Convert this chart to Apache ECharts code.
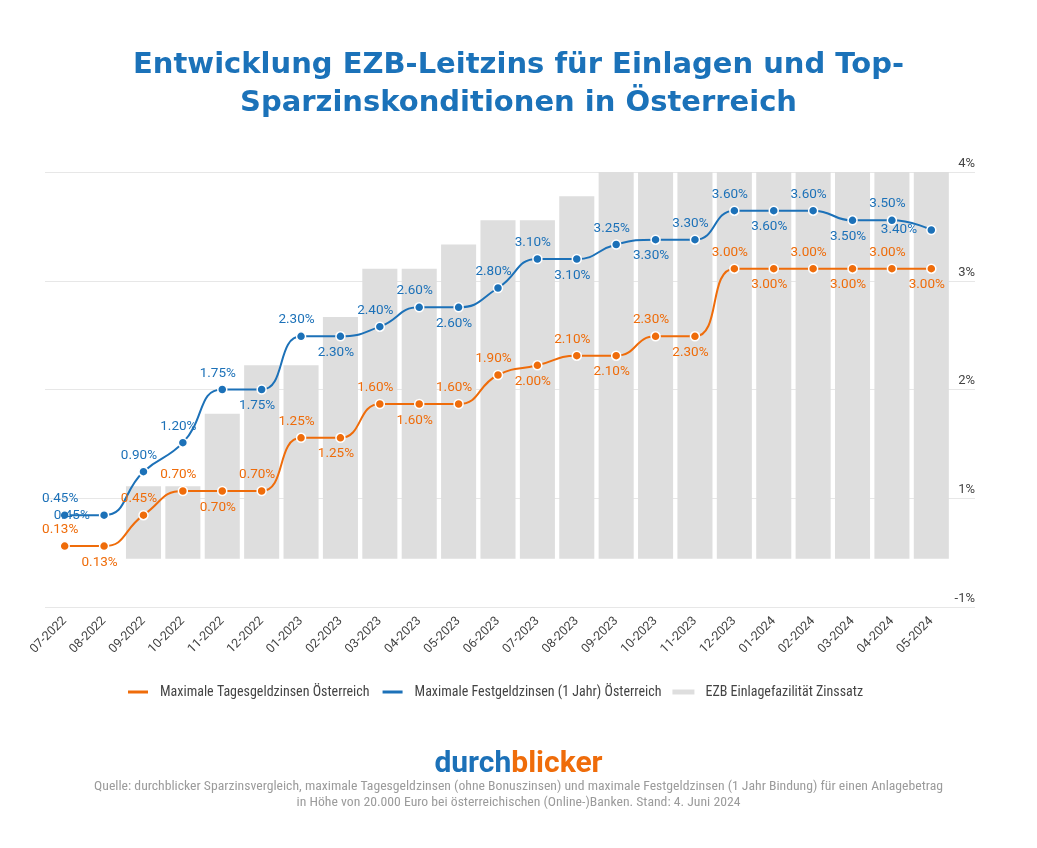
<!DOCTYPE html>
<html>
<head>
<meta charset="utf-8">
<script src="https://cdn.jsdelivr.net/npm/echarts@6/dist/echarts.min.js"></script>
<style>
  html, body { margin: 0; padding: 0; background: #fff; }
  #container { width: 1037px; height: 848px; }
</style>
</head>
<body>
<div id="container"></div>
<script>
var months = ['07-2022', '08-2022', '09-2022', '10-2022', '11-2022', '12-2022',
    '01-2023', '02-2023', '03-2023', '04-2023', '05-2023', '06-2023', '07-2023',
    '08-2023', '09-2023', '10-2023', '11-2023', '12-2023', '01-2024', '02-2024',
    '03-2024', '04-2024', '05-2024'];
var tagesgeld = [0.13, 0.13, 0.45, 0.70, 0.70, 0.70, 1.25, 1.25, 1.60, 1.60, 1.60, 1.90,
    2.00, 2.10, 2.10, 2.30, 2.30, 3.00, 3.00, 3.00, 3.00, 3.00, 3.00];
var festgeld = [0.45, 0.45, 0.90, 1.20, 1.75, 1.75, 2.30, 2.30, 2.40, 2.60, 2.60, 2.80,
    3.10, 3.10, 3.25, 3.30, 3.30, 3.60, 3.60, 3.60, 3.50, 3.50, 3.40];
var ezb = [0, 0, 0.75, 0.75, 1.50, 2.00, 2.00, 2.50, 3.00, 3.00, 3.25, 3.50,
    3.50, 3.75, 4.00, 4.00, 4.00, 4.00, 4.00, 4.00, 4.00, 4.00, 4.00];
// right axis labels as printed in the original (0 position is labelled -1%)
var tickLabels = ['-1%', '1%', '2%', '3%', '4%'];

// where the value labels sit
var posTages = ['top', 'bottom', 'top', 'top', 'bottom', 'top', 'top', 'bottom', 'top', 'bottom',
    'top', 'top', 'bottom', 'top', 'bottom', 'top', 'bottom', 'top', 'bottom', 'top',
    'bottom', 'top', 'bottom'];
var posFest = ['top', 'left', 'top', 'top', 'top', 'bottom', 'top', 'bottom', 'top', 'top',
    'bottom', 'top', 'top', 'bottom', 'top', 'bottom', 'top', 'top', 'bottom', 'top',
    'bottom', 'top', 'left'];

var orange = '#ef6c0a';
var blue = '#1c71b8';
var narrow = "'Roboto Condensed', 'Liberation Sans Narrow', 'DejaVu Sans Condensed', Roboto, sans-serif";

function withLabels(values, pos) {
    return values.map(function (v, i) {
        var p = pos[i];
        return {
            value: v,
            label: {
                position: p,
                distance: p === 'left' ? 9 : 4,
                offset: p === 'left' ? [0, 0] : [-4.5, 0]
            }
        };
    });
}

var dom = document.getElementById('container');
var myChart = echarts.init(dom);
var option = {
    backgroundColor: '#fff',
    animation: false,
    title: [
        {
            text: 'Entwicklung EZB-Leitzins für Einlagen und Top-\nSparzinskonditionen in Österreich',
            left: 'center',
            top: 41,
            textStyle: {
                fontFamily: "'DejaVu Sans', sans-serif",
                fontWeight: 'bold',
                fontSize: 29,
                lineHeight: 38,
                color: '#1b72b9'
            }
        },
        {
            text: '{a|durch}{b|blicker}',
            left: 'center',
            top: 744,
            textStyle: {
                rich: {
                    a: { fontFamily: 'Roboto', fontWeight: 'bold', fontSize: 30, color: '#1c71b8' },
                    b: { fontFamily: 'Roboto', fontWeight: 'bold', fontSize: 30, color: '#ef6c0a' }
                }
            }
        },
        {
            text: 'Quelle: durchblicker Sparzinsvergleich, maximale Tagesgeldzinsen (ohne Bonuszinsen) und maximale Festgeldzinsen (1 Jahr Bindung) für einen Anlagebetrag\nin Höhe von 20.000 Euro bei österreichischen (Online-)Banken. Stand: 4. Juni 2024',
            left: 'center',
            top: 774,
            textStyle: {
                fontFamily: narrow,
                fontWeight: 'normal',
                fontSize: 13.7,
                lineHeight: 16,
                color: '#9b9b9b'
            }
        }
    ],
    legend: {
        top: 680,
        left: 121,
        icon: 'rect',
        itemWidth: 22,
        itemHeight: 5,
        itemGap: 11,
        textStyle: { fontFamily: narrow, fontSize: 14, color: '#444', padding: [0, 0, 0, 6] },
        data: ['Maximale Tagesgeldzinsen Österreich', 'Maximale Festgeldzinsen (1 Jahr) Österreich', 'EZB Einlagefazilität Zinssatz']
    },
    grid: [
        { left: 45, right: 86, top: 172, bottom: 241 },
        { left: 45, right: 62, top: 172, bottom: 241 }
    ],
    xAxis: [
        {
            type: 'category',
            gridIndex: 0,
            data: months,
            axisLine: { show: false },
            axisTick: { show: false },
            axisLabel: {
                rotate: 45,
                margin: 12,
                fontFamily: 'Roboto',
                fontSize: 12.5,
                color: '#444',
                interval: 0
            }
        },
        { type: 'value', gridIndex: 1, show: false, min: 0, max: 1 }
    ],
    yAxis: [
        {
            type: 'value',
            gridIndex: 0,
            min: -0.5,
            max: 4,
            show: false,
            splitLine: { show: false }
        },
        {
            type: 'value',
            gridIndex: 1,
            position: 'right',
            min: 0,
            max: 4,
            interval: 1,
            axisLine: { show: false },
            axisTick: { show: false },
            splitLine: { lineStyle: { color: '#e7e7e7', width: 1 } },
            axisLabel: {
                inside: true,
                margin: 0,
                verticalAlign: 'bottom',
                padding: [0, 0, 2, 0],
                fontFamily: 'Roboto',
                fontSize: 13,
                color: '#444',
                formatter: function (v) { return tickLabels[v]; }
            }
        }
    ],
    series: [
        {
            name: 'Maximale Tagesgeldzinsen Österreich',
            type: 'line',
            xAxisIndex: 0,
            yAxisIndex: 0,
            smooth: 0.5,
            z: 4,
            symbol: 'circle',
            symbolSize: 9,
            itemStyle: { color: orange, borderColor: '#fff', borderWidth: 1.5 },
            lineStyle: { color: orange, width: 2 },
            label: {
                show: true,
                color: orange,
                fontFamily: 'Roboto',
                fontSize: 13.5,
                formatter: function (p) { return p.value.toFixed(2) + '%'; }
            },
            data: withLabels(tagesgeld, posTages)
        },
        {
            name: 'Maximale Festgeldzinsen (1 Jahr) Österreich',
            type: 'line',
            xAxisIndex: 0,
            yAxisIndex: 0,
            smooth: 0.5,
            z: 3,
            symbol: 'circle',
            symbolSize: 9,
            itemStyle: { color: blue, borderColor: '#fff', borderWidth: 1.5 },
            lineStyle: { color: blue, width: 2 },
            label: {
                show: true,
                color: blue,
                fontFamily: 'Roboto',
                fontSize: 13.5,
                formatter: function (p) { return p.value.toFixed(2) + '%'; }
            },
            data: withLabels(festgeld, posFest)
        },
        {
            name: 'EZB Einlagefazilität Zinssatz',
            type: 'bar',
            xAxisIndex: 0,
            yAxisIndex: 0,
            z: 1,
            barCategoryGap: '11%',
            itemStyle: { color: '#dedede' },
            data: ezb
        }
    ]
};
myChart.setOption(option, true);
</script>
</body>
</html>
